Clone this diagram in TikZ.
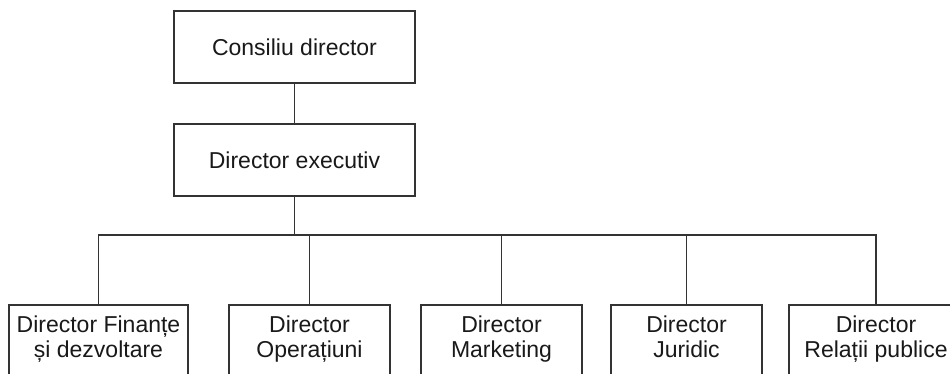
\documentclass[tikz,border=0pt]{standalone}
\usepackage{fontspec}
\setmainfont{Liberation Sans}
\usetikzlibrary{positioning,calc}

\begin{document}
\begin{tikzpicture}[x=1pt, y=-1pt, line width=1.1pt, draw=black!80]
	\tikzstyle{every node}=[font=\fontsize{23}{25}\selectfont, text=black!90]
	\tikzstyle{post}=[rectangle, draw=black!80, fill=white, align=center, inner sep=0pt, minimum height=72pt]
	\tikzstyle{director}=[post, minimum height=70pt, execute at end node=\strut]
	\useasboundingbox[fill=white] (0,0) rectangle (950,373);
	\clip (0,0) rectangle (950,373);
	\node[post, minimum width=241pt] (cons) at (294.5,47)  {Consiliu director};
	\node[post, minimum width=241pt] (exec) at (294.5,160) {Director executiv};
	\coordinate (bus) at (294.5,235);
	% directors
	\node[director, minimum width=179pt] (fin) at (98.5,340)  {Director Finanțe\\și dezvoltare};
	\node[director, minimum width=161pt] (op)  at (309.5,340) {Director\\Operațiuni};
	\node[director, minimum width=161pt] (mkt) at (501.5,340) {Director\\Marketing};
	\node[director, minimum width=151pt] (jur) at (686.5,340) {Director\\Juridic};
	\node[director, minimum width=174pt] (rp)  at (876,340)   {Director\\Relații publice};
	\path
	(cons) edge (exec)
	(exec) edge (bus);
	\foreach \n in {fin,op,mkt,jur,rp}
		\draw (bus) -| (\n);
\end{tikzpicture}
\end{document}
